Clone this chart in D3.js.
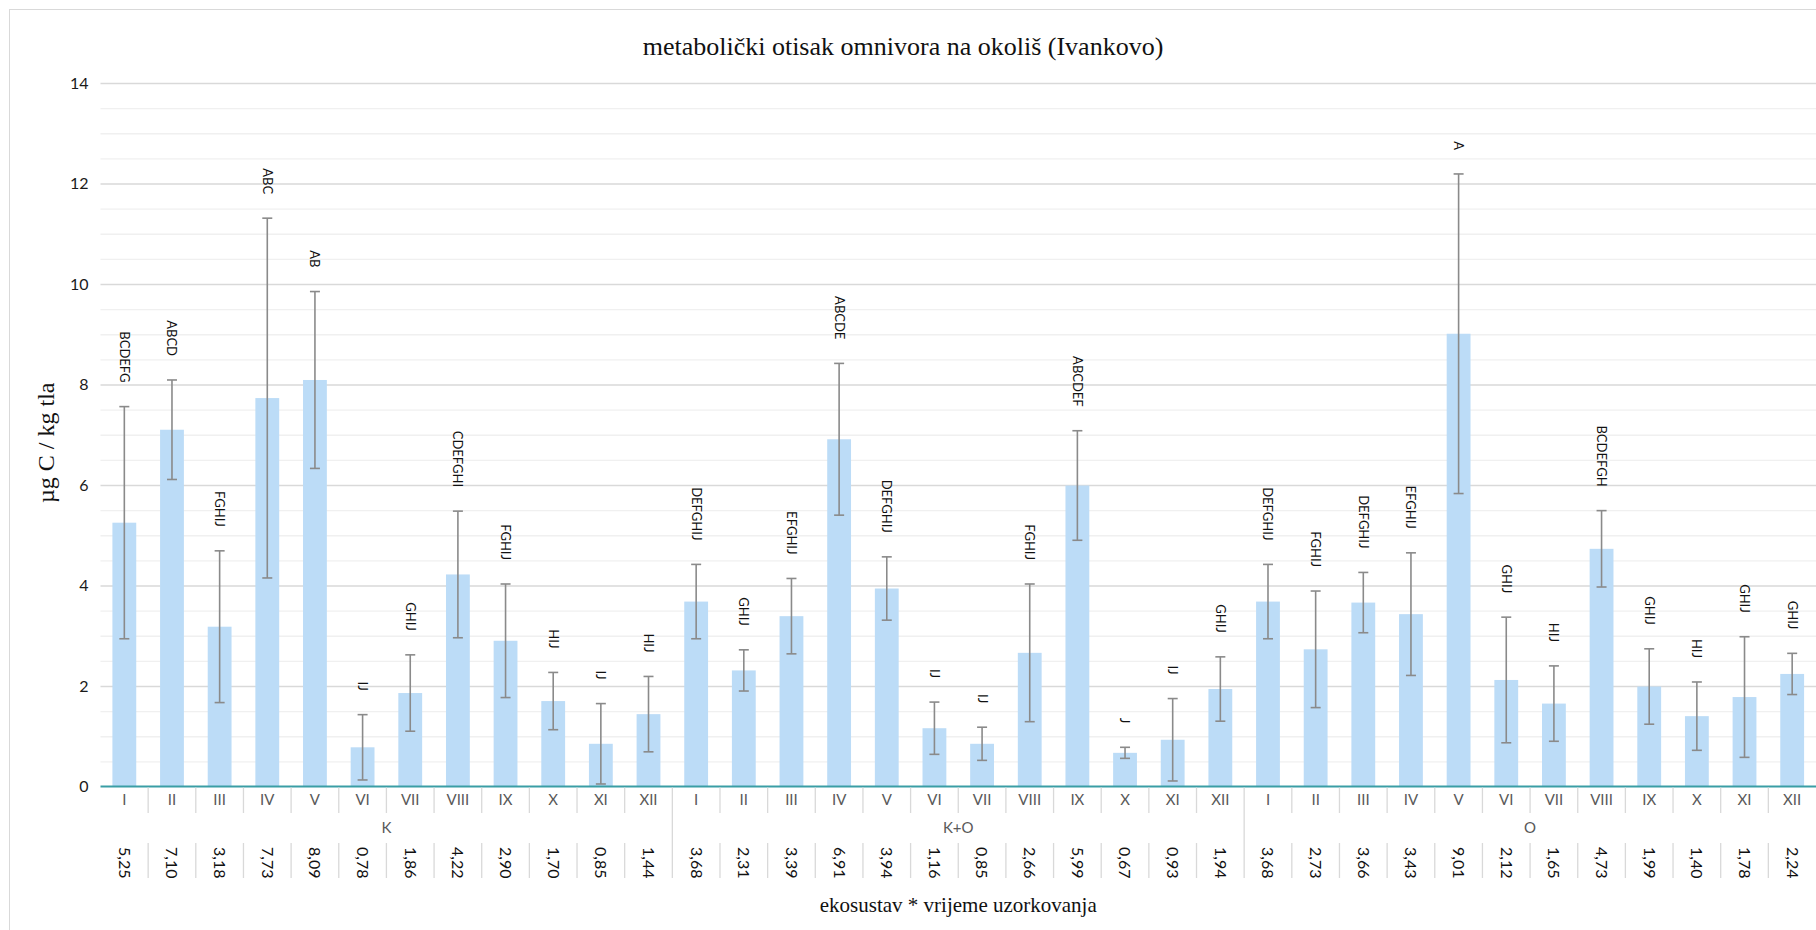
<!DOCTYPE html>
<html>
<head>
<meta charset="utf-8">
<script src="https://cdn.jsdelivr.net/npm/d3@7"></script>
<style>
  body { margin: 0; background: #fff; }
  svg { display: block; }
</style>
</head>
<body>
<div id="chart"></div>
<script>
// ---------------------------------------------------------------------------
// DATA
// ---------------------------------------------------------------------------
const months = ["I", "II", "III", "IV", "V", "VI", "VII", "VIII", "IX", "X", "XI", "XII"];
const groups = ["K", "K+O", "O"];

const meanK  = [5.25, 7.10, 3.18, 7.73, 8.09, 0.78, 1.86, 4.22, 2.90, 1.70, 0.85, 1.44];
const meanKO = [3.68, 2.31, 3.39, 6.91, 3.94, 1.16, 0.85, 2.66, 5.99, 0.67, 0.93, 1.94];
const meanO  = [3.68, 2.73, 3.66, 3.43, 9.01, 2.12, 1.65, 4.73, 1.99, 1.40, 1.78, 2.24];

// standard deviations (error bars)
const sdK  = [2.31, 0.99, 1.51, 3.58, 1.76, 0.65, 0.76, 1.26, 1.13, 0.57, 0.80, 0.75];
const sdKO = [0.74, 0.41, 0.75, 1.51, 0.63, 0.52, 0.33, 1.37, 1.09, 0.11, 0.82, 0.64];
const sdO  = [0.74, 1.16, 0.60, 1.22, 3.18, 1.25, 0.75, 0.76, 0.75, 0.68, 1.20, 0.41];

// significance letters
const letK  = ["BCDEFG", "ABCD", "FGHIJ", "ABC", "AB", "IJ", "GHIJ", "CDEFGHI", "FGHIJ", "HIJ", "IJ", "HIJ"];
const letKO = ["DEFGHIJ", "GHIJ", "EFGHIJ", "ABCDE", "DEFGHIJ", "IJ", "IJ", "FGHIJ", "ABCDEF", "J", "IJ", "GHIJ"];
const letO  = ["DEFGHIJ", "FGHIJ", "DEFGHIJ", "EFGHIJ", "A", "GHIJ", "HIJ", "BCDEFGH", "GHIJ", "HIJ", "GHIJ", "GHIJ"];

const yTicks = [0, 2, 4, 6, 8, 10, 12, 14];

const title = "metabolički otisak omnivora na okoliš (Ivankovo)";
const yTitle = "µg C / kg tla";
const xTitle = "ekosustav * vrijeme uzorkovanja";

// build flat table
const seriesMeans = [meanK, meanKO, meanO];
const seriesSd = [sdK, sdKO, sdO];
const seriesLet = [letK, letKO, letO];
const data = [];
groups.forEach((g, gi) => {
    months.forEach((m, mi) => {
        data.push({
            key: g + "|" + m,
            group: g,
            month: m,
            value: seriesMeans[gi][mi],
            sd: seriesSd[gi][mi],
            letters: seriesLet[gi][mi]
        });
    });
});

// ---------------------------------------------------------------------------
// LAYOUT
// ---------------------------------------------------------------------------
const W = 1816, H = 930;
const plot = { left: 100.5, right: 1816, top: 83, bottom: 786.5 };

const fmt = d3.formatLocale({ decimal: ",", thousands: ".", grouping: [3], currency: ["", ""] }).format(".2f");

const svg = d3.select("#chart").append("svg")
    .attr("width", W)
    .attr("height", H);

// chart border
svg.append("rect")
    .attr("x", 9.5).attr("y", 9.5)
    .attr("width", W + 20).attr("height", H + 20)
    .attr("fill", "#fff")
    .attr("stroke", "#d9d9d9")
    .attr("stroke-width", 1);

const x = d3.scaleBand()
    .domain(data.map(d => d.key))
    .range([plot.left, plot.right])
    .paddingInner(0.5)
    .paddingOuter(0.25);

const step = x.step();

const y = d3.scaleLinear()
    .domain([0, 14])
    .range([plot.bottom, plot.top]);

// minor gridlines (every 0.5)
const minor = d3.range(0.5, 14.01, 0.5).filter(v => v % 2 !== 0);
svg.append("g")
    .attr("transform", `translate(${plot.left},0)`)
    .call(d3.axisLeft(y).tickValues(minor).tickSize(-(plot.right - plot.left)).tickFormat(""))
    .call(g => g.select(".domain").remove())
    .call(g => g.selectAll("line").attr("stroke", "#f0f0f0").attr("stroke-width", 1.3));

// major gridlines
svg.append("g")
    .attr("transform", `translate(${plot.left},0)`)
    .call(d3.axisLeft(y).tickValues(yTicks.filter(v => v > 0)).tickSize(-(plot.right - plot.left)).tickFormat(""))
    .call(g => g.select(".domain").remove())
    .call(g => g.selectAll("line").attr("stroke", "#d9d9d9").attr("stroke-width", 1.5));

// y tick labels
svg.append("g")
    .attr("transform", `translate(${plot.left},0)`)
    .call(d3.axisLeft(y).tickValues(yTicks).tickSize(0).tickPadding(12).tickFormat(d3.format("d")))
    .call(g => g.select(".domain").remove())
    .call(g => g.selectAll("text")
        .attr("font-family", "Lato, 'Open Sans', sans-serif")
        .attr("font-size", 16)
        .attr("fill", "#1a1a1a"));

// bars
svg.append("g").selectAll("rect")
    .data(data)
    .join("rect")
    .attr("x", d => x(d.key))
    .attr("y", d => y(d.value))
    .attr("width", x.bandwidth())
    .attr("height", d => y(0) - y(d.value))
    .attr("fill", "#bcdcf7");

// error bars
const err = svg.append("g")
    .attr("stroke", "#8a8a8a")
    .attr("stroke-width", 1.6);
const cap = 5;
data.forEach(d => {
    const cx = x(d.key) + x.bandwidth() / 2;
    const hi = y(d.value + d.sd), lo = y(Math.max(0, d.value - d.sd));
    err.append("line").attr("x1", cx).attr("x2", cx).attr("y1", hi).attr("y2", lo);
    err.append("line").attr("x1", cx - cap).attr("x2", cx + cap).attr("y1", hi).attr("y2", hi);
    err.append("line").attr("x1", cx - cap).attr("x2", cx + cap).attr("y1", lo).attr("y2", lo);
});

// significance letters
svg.append("g").selectAll("text")
    .data(data)
    .join("text")
    .attr("transform", d => `translate(${x(d.key) + x.bandwidth() / 2},${y(d.value + d.sd) - 24}) rotate(90)`)
    .attr("text-anchor", "end")
    .attr("dy", "0.35em")
    .attr("font-family", "Lato, 'Open Sans', sans-serif")
    .attr("font-size", 13)
    .attr("fill", "#111")
    .text(d => d.letters);

// x axis line
svg.append("line")
    .attr("x1", plot.left).attr("x2", plot.right)
    .attr("y1", y(0)).attr("y2", y(0))
    .attr("stroke", "#3a9ea5")
    .attr("stroke-width", 2);

// ---------------------------------------------------------------------------
// CATEGORY TABLE UNDER THE AXIS
// ---------------------------------------------------------------------------
const sepColor = "#d9d9d9";
const rowMonthBottom = 813, rowGroupBottom = 843, rowValTop = 843, rowValBottom = 878;

const sep = svg.append("g").attr("stroke", sepColor).attr("stroke-width", 1.3);
data.forEach((d, i) => {
    if (i === 0) return;
    const xs = x(d.key) - step * 0.25;
    const groupStart = d.month === months[0];
    sep.append("line").attr("x1", xs).attr("x2", xs)
        .attr("y1", y(0) + 1).attr("y2", groupStart ? rowGroupBottom : rowMonthBottom);
    sep.append("line").attr("x1", xs).attr("x2", xs)
        .attr("y1", rowValTop).attr("y2", rowValBottom);
});

// month labels
svg.append("g").selectAll("text")
    .data(data)
    .join("text")
    .attr("x", d => x(d.key) + x.bandwidth() / 2)
    .attr("y", 800)
    .attr("dy", "0.35em")
    .attr("text-anchor", "middle")
    .attr("font-family", "Lato, 'Open Sans', sans-serif")
    .attr("font-size", 15)
    .attr("fill", "#595959")
    .text(d => d.month);

// group labels
svg.append("g").selectAll("text")
    .data(groups)
    .join("text")
    .attr("x", g => {
        const first = x(g + "|" + months[0]) - step * 0.25;
        return first + step * months.length / 2;
    })
    .attr("y", 828)
    .attr("dy", "0.35em")
    .attr("text-anchor", "middle")
    .attr("font-family", "Lato, 'Open Sans', sans-serif")
    .attr("font-size", 15)
    .attr("fill", "#595959")
    .text(g => g);

// value row
svg.append("g").selectAll("text")
    .data(data)
    .join("text")
    .attr("transform", d => `translate(${x(d.key) + x.bandwidth() / 2},847) rotate(90)`)
    .attr("text-anchor", "start")
    .attr("dy", "0.35em")
    .attr("font-family", "Lato, 'Open Sans', sans-serif")
    .attr("font-size", 16)
    .attr("fill", "#111")
    .text(d => fmt(d.value));

// ---------------------------------------------------------------------------
// TITLES
// ---------------------------------------------------------------------------
svg.append("text")
    .attr("x", 903).attr("y", 55)
    .attr("text-anchor", "middle")
    .attr("font-family", "'Liberation Serif', 'Times New Roman', serif")
    .attr("font-size", 26)
    .attr("fill", "#111")
    .text(title);

svg.append("text")
    .attr("transform", `translate(46,${(plot.top + plot.bottom) / 2 + 8}) rotate(-90)`)
    .attr("text-anchor", "middle")
    .attr("dy", "0.35em")
    .attr("font-family", "'Liberation Serif', 'Times New Roman', serif")
    .attr("font-size", 24)
    .attr("fill", "#111")
    .text(yTitle);

svg.append("text")
    .attr("x", (plot.left + plot.right) / 2)
    .attr("y", 905)
    .attr("dy", "0.35em")
    .attr("text-anchor", "middle")
    .attr("font-family", "'Liberation Serif', 'Times New Roman', serif")
    .attr("font-size", 21)
    .attr("fill", "#111")
    .text(xTitle);
</script>
</body>
</html>
